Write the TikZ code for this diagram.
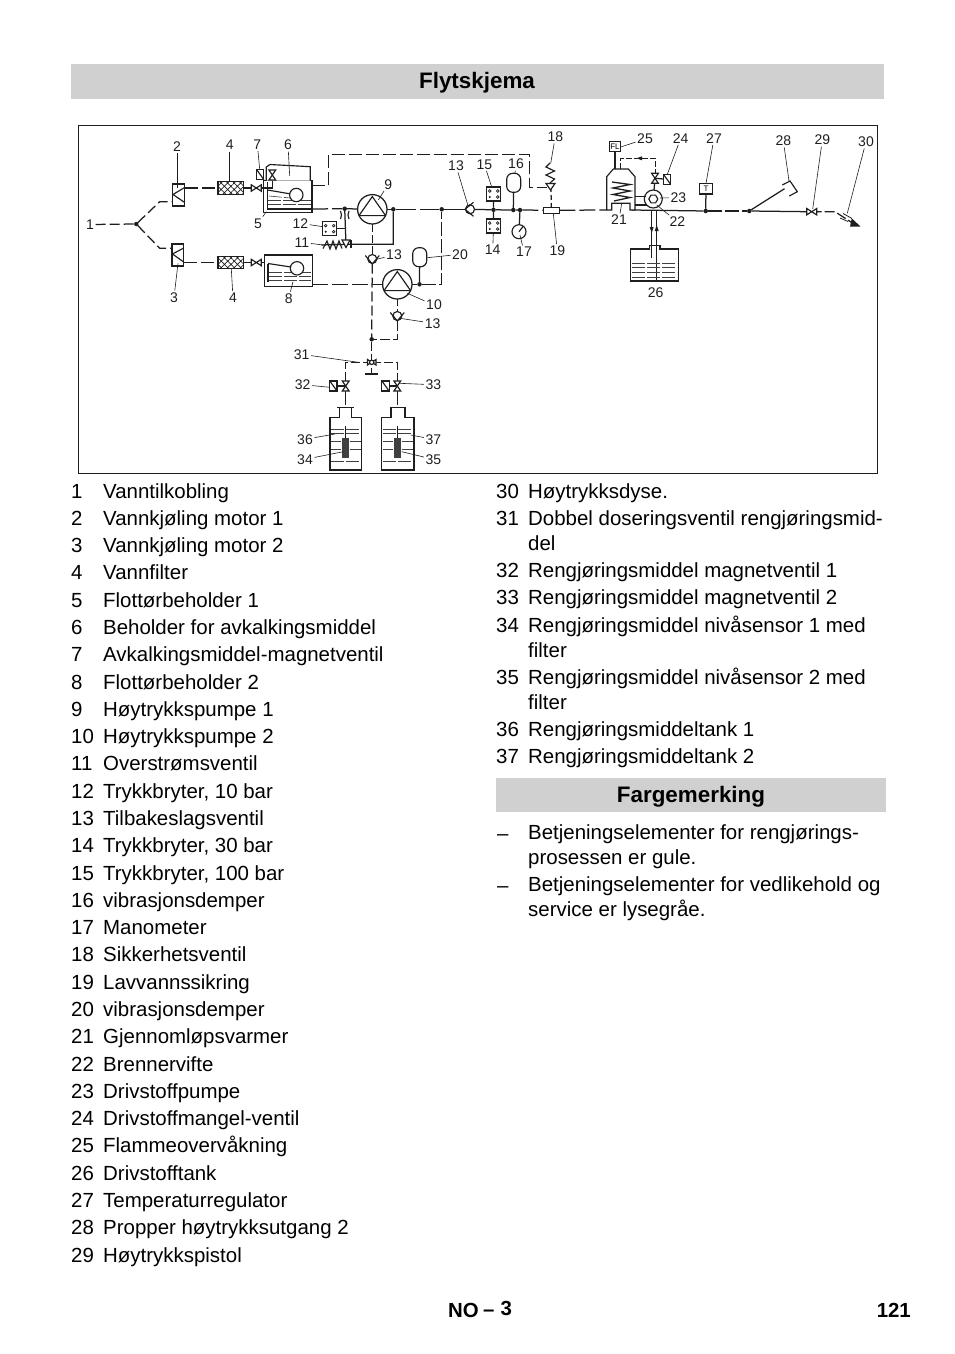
\documentclass[tikz,border=0pt]{standalone}
\usepackage{fontspec}
\setmainfont{Liberation Sans}
\usepackage{xcolor}
\definecolor{Ink}{RGB}{30,30,30}
\definecolor{Bar}{RGB}{208,208,208}
\usetikzlibrary{shapes.geometric}
\usetikzlibrary{patterns.meta}
\usetikzlibrary{arrows.meta}
\tikzstyle{Part}=[draw=Ink,line width=1.15pt]
\tikzstyle{Box}=[Part,rectangle,fill=white,inner sep=0pt,outer sep=0pt]
\tikzstyle{Pipe}=[draw=Ink,line width=1.25pt,dash pattern=on 13pt off 4pt]
\tikzstyle{Solid}=[draw=Ink,line width=1.25pt]
\tikzstyle{Leader}=[draw=Ink,line width=.6pt]
\tikzstyle{Water}=[draw=Ink!85,line width=.6pt,dash pattern=on 13pt off 2pt]
\tikzstyle{Dot}=[circle,fill=Ink,inner sep=0pt,minimum size=4.5pt,outer sep=0pt]
\tikzstyle{Num}=[font=\fontsize{14}{14}\selectfont,text=Ink,inner sep=1.5pt]
\tikzstyle{Item}=[anchor=base west,inner sep=0pt,font=\fontsize{20.45}{24}\selectfont]
\tikzstyle{Head}=[inner sep=0pt,font=\fontsize{22.4}{26}\selectfont\bfseries]
\tikzstyle{Foot}=[anchor=base west,inner sep=0pt,font=\fontsize{20.4}{24}\selectfont\bfseries]
\tikzstyle{Filter}=[Box,minimum width=25.7pt,minimum height=12.8pt,
pattern={Hatch[angle=45,distance=4.6pt,line width=.7pt]},pattern color=Ink]
\tikzstyle{Pump}=[circle,draw=Ink,line width=1.25pt,fill=white,inner sep=0pt,
minimum size=29.4pt,outer sep=0pt,path picture={
\draw[Part]([yshift=12.7pt]path picture bounding box.center)
--([shift={(-13.3pt,-6.3pt)}]path picture bounding box.center)
--([shift={(13.3pt,-6.3pt)}]path picture bounding box.center)--cycle;}]
\tikzstyle{Ball}=[circle,Part,fill=white,inner sep=0pt,minimum size=9pt,outer sep=0pt]
\tikzstyle{Accu}=[Part,rectangle,rounded corners=6pt,fill=white,inner sep=0pt,
minimum width=14pt,minimum height=19pt,outer sep=0pt]
\tikzset{
    ValveH/.pic={\draw[Part,fill=white](-5,-3.2)--(5,3.2)--(5,-3.2)--(-5,3.2)--cycle;},
    ValveV/.pic={\draw[Part,fill=white](-3.4,-5)--(3.4,5)--(-3.4,5)--(3.4,-5)--cycle;},
    Seat/.pic={\draw[Part](-7,-3.5)--(0,5)--(7,-3.5);},
    Solenoid/.pic={\draw[Part,fill=white](-3.6,-5)rectangle(3.6,5);\draw[Part](-3.6,-5)--(3.6,5);},
    Switch/.pic={\draw[Part,fill=white](-7,-7)rectangle(7,7);
        \draw[Part,line width=.7pt](-4,-3)circle(1.3)(4,-3)circle(1.3)(4,3)circle(1.3)(-4,3)circle(.6);}
}
\begin{document}
\begin{tikzpicture}[x=1pt,y=-1pt]
    \useasboundingbox(0,0)rectangle(954,1354);
    % headings and frame
    \fill[Bar](71,64)rectangle(883.5,99);
    \fill[Bar](496,778)rectangle(886,812);
    \node[Head](title)at(477,83){Flytskjema};
    \node[Head](colours)at(691,797){Fargemerking};
    \draw[draw=Ink,line width=.8pt](78,125.5)rectangle(877.5,473.5);
    % components
    \node(water)at(90,224.5)[Num]{1};
    \node[Dot](j1)at(136.3,224){};
    \node[Box,minimum width=12.4pt,minimum height=22pt](cool1)at(178.5,195){};
    \node[Box,minimum width=11.7pt,minimum height=22pt](cool2)at(177.8,255){};
    \node[Filter](filt1)at(230.8,188){};
    \node[Filter](filt2)at(230.8,262.5){};
    \node[Box,minimum width=48.7pt,minimum height=31.6pt](float1)at(287.7,196.5){};
    \node[Box,minimum width=47.6pt,minimum height=31.7pt](float2)at(288.5,270.8){};
    \node[Pump](pump1)at(372.3,209.3){};
    \node[Pump](pump2)at(397.3,284.3){};
    \node[Dot](j2)at(344.7,208.7){};
    \node[Dot](j3)at(393.3,209.3){};
    \node[Dot](j4)at(441.7,209.3){};
    \node[Ball](check1)at(470,209.3){};
    \node[Ball](check2)at(372.3,259){};
    \node[Ball](check3)at(397.3,316){};
    \node[Dot](j5)at(493.5,209.8){};
    \node[Dot](j6)at(513.3,210){};
    \node[Dot](j7)at(520,210){};
    \node[Accu](accu1)at(513.7,182.8){};
    \node[Accu](accu2)at(419.7,257.2){};
    \node[Dot](j8)at(419.5,284.3){};
    \node[circle,Part,fill=white,inner sep=0pt,minimum size=14pt,outer sep=0pt](gauge)at(519,231.7){};
    \node[Box,minimum width=16pt,minimum height=6pt](flow)at(551.3,210.3){};
    \node[Box,minimum width=12.4pt,minimum height=10.7pt,font=\fontsize{8}{8}\selectfont](temp)at(706,188.7){T};
    \node[Box,minimum width=11.4pt,minimum height=10pt,font=\fontsize{8}{8}\selectfont](flame)at(615,146.7){FL};
    \node[Dot](j9)at(705.7,211){};
    \node[Dot](j10)at(749.3,211){};
    \node[Dot](j11)at(371.7,339.3){};
    \node[circle,Part,fill=white,inner sep=0pt,minimum size=18pt,outer sep=0pt](burner)at(653.3,199){};
    \node[regular polygon,regular polygon sides=6,Part,inner sep=0pt,minimum size=9pt](fan)at(653.3,199){};
    % free ends of the pipes
    \coordinate(y1)at(159.7,201.7);
    \coordinate(y2)at(159.7,248.3);
    \coordinate(in1)at(172.3,201.7);
    \coordinate(in2)at(172,248.3);
    \coordinate(out1)at(184.7,188);
    \coordinate(out2)at(183.7,262.5);
    \coordinate(v1)at(256.3,188);
    \coordinate(v2)at(256.3,262.5);
    \coordinate(s1)at(263.3,188);
    \coordinate(s2)at(264.7,262.5);
    \coordinate(v7)at(272.3,175);
    \coordinate(v7b)at(272.3,188);
    \coordinate(a1)at(312,185.7);
    \coordinate(a2)at(328.7,185.7);
    \coordinate(a3)at(328.7,154.3);
    \coordinate(a4)at(529.3,154.3);
    \coordinate(a5)at(529.3,187.3);
    \coordinate(a6)at(546.7,187.3);
    \coordinate(b1)at(312,209);
    \coordinate(b2)at(312.3,284.3);
    \coordinate(v11)at(346,244.3);
    \coordinate(c1)at(393.3,244.3);
    \coordinate(c2)at(441.7,284.3);
    \coordinate(sw12)at(329.7,228.7);
    \coordinate(sw15)at(493.7,194);
    \coordinate(sw14)at(493.7,226);
    \coordinate(e1)at(345,228.7);
    \coordinate(sp1)at(321.3,245);
    \coordinate(v18)at(551,187);
    \coordinate(d1)at(372.3,339.3);
    \coordinate(d2)at(397.3,339.3);
    \coordinate(v31)at(371.7,362.3);
    \coordinate(d3)at(345.7,362.3);
    \coordinate(d4)at(397.3,362.3);
    \coordinate(v32)at(345.7,386);
    \coordinate(v33)at(397.3,386);
    \coordinate(sl32)at(333.4,386);
    \coordinate(sl33)at(385.5,386);
    \coordinate(f32)at(345.7,405);
    \coordinate(f33)at(397.3,405);
    \coordinate(h1)at(606.7,210);
    \coordinate(h2)at(631.7,210);
    \coordinate(m1)at(806.7,211.7);
    \coordinate(v29)at(811.7,211.7);
    \coordinate(m2)at(835,211.7);
    \coordinate(m3)at(851.7,222.5);
    \coordinate(v24)at(655,178.3);
    \coordinate(sl24)at(667,179.3);
    \coordinate(g1)at(620.7,169);
    \coordinate(g2)at(620.7,158.3);
    \coordinate(g3)at(655,158.3);
    \coordinate(top)at(615,169);
    \coordinate(lf1)at(651.7,210);
    \coordinate(lf2)at(651.7,258);
    \coordinate(rf1)at(656.7,280);
    \coordinate(rf2)at(656.7,210);
    \coordinate(p1)at(789.3,185.7);
    % pipes
    \draw[Pipe,dash pattern=on 10pt off 4pt](water)--(j1);
    \draw[Pipe,dash pattern=on 10pt off 4pt](j1)--(y1)--(in1);
    \draw[Pipe,dash pattern=on 10pt off 4pt](j1)--(y2)--(in2);
    \draw[Pipe](out1)--(filt1);
    \draw[Pipe](out2)--(filt2);
    \draw[Solid](filt1)--(s1);
    \draw[Solid](filt2)--(s2);
    \draw[Solid](v1)--(v7b)--(v7);
    \draw[Pipe](a1)--(a2)--(a3)--(a4)--(a5)--(a6);
    \draw[Pipe,dash pattern=on 16pt off 4pt](b1)--(j2);
    \draw[Solid](j2)--(pump1);
    \draw[Solid](j2)--(v11);
    \draw[Solid](sw12)--(e1);
    \draw[Solid](sp1)--(v11)--(c1)--(j3);
    \draw[Solid](pump1)--(j3);
    \draw[Pipe,dash pattern=on 20pt off 4pt](j3)--(j4);
    \draw[Solid](j4)--(check1);
    \draw[Solid](check1)--(j5);
    \draw[Solid](j5)--(j6)--(j7);
    \draw[Pipe,dash pattern=on 16pt off 4pt](j7)--(flow);
    \draw[Solid](sw15)--(j5);
    \draw[Solid](sw14)--(j5);
    \draw[Solid](accu1)--(j6);
    \draw[Solid](gauge)--(j7);
    \draw[Pipe,dash pattern=on 5pt off 3pt](v18)--(flow);
    \draw[Pipe,dash pattern=on 16pt off 4pt](b2)--(pump2);
    \draw[Pipe,dash pattern=on 8pt off 3pt](pump1)--(check2);
    \draw[Pipe,dash pattern=on 10pt off 4pt](check2)--(j11);
    \draw[Solid](pump2)--(j8);
    \draw[Pipe,dash pattern=on 14pt off 3pt](j8)--(c2)--(j4);
    \draw[Solid](accu2)--(j8);
    \draw[Pipe,dash pattern=on 7pt off 3pt](pump2)--(check3);
    \draw[Pipe,dash pattern=on 10pt off 3pt](check3)--(d2)--(j11);
    \draw[Pipe,dash pattern=on 9pt off 3pt](j11)--(v31);
    \draw[Pipe,dash pattern=on 9pt off 3pt](v31)--(d3)--(v32);
    \draw[Pipe,dash pattern=on 9pt off 3pt](v31)--(d4)--(v33);
    \draw[Solid](v32)--(f32);
    \draw[Solid](v33)--(f33);
    \draw[Solid](v32)--(sl32);
    \draw[Solid](v33)--(sl33);
    \draw[Pipe,dash pattern=on 16pt off 4pt](flow)--(h1);
    \draw[Solid](h2)--(j9);
    \draw[Solid](temp)--(j9);
    \draw[Pipe,dash pattern=on 14pt off 3pt](j9)--(j10);
    \draw[Solid](j10)--(m1);
    \draw[Solid](j10)--(p1);
    \draw[Pipe,dash pattern=on 10pt off 3pt](v29)--(m2)--(m3);
    \draw[Solid](flame)--(top);
    \draw[Pipe,dash pattern=on 6pt off 2pt,line width=.7pt](g1)--(g2)--(g3)--(v24);
    \draw[Solid](v24)--(sl24);
    \draw[Solid](v24)--(burner);
    \draw[draw=Ink,line width=.8pt](lf1)--(lf2);
    \draw[draw=Ink,line width=.8pt](rf1)--(rf2);
    % inner shapes
    \draw[Part](184.7,187.5)--(173,194.5)--(184.7,202.5);
    \draw[Part](183.7,248)--(172.5,254)--(183.7,262);
    \draw[Part,fill=white](266.3,180.7)--(266.3,167)--(270,164.5)--(310.3,166.7)--(310.3,180.7);
    \draw[Part](267.5,182)--(267.5,209)--(312,209);
    \draw[Part](267.5,190)--(291,194);
    \draw[Part](268,263.5)--(268,282);
    \draw[Part](268,263.5)--(291,267);
    \draw[Water](268,200)--(311,200);
    \draw[Water](268,204)--(311,204);
    \draw[Water](269,196)--(290,198);
    \draw[Water](269,272)--(311,272);
    \draw[Water](269,276)--(311,276);
    \draw[Water](269,280)--(311,280);
    \draw[Part,fill=white](296.3,195)circle(6.7);
    \draw[Part,fill=white](297,268.3)circle(6.7);
    % heater, fuel tank and nozzle
    \draw[Part,fill=white](606.7,210)--(606.7,176.7)--(613.3,169)--(628.3,169)--(635,176.7)--(635,210)
        --(630,210)--(630,203.3)--(611.7,203.3)--(611.7,210)--cycle;
    \draw[Part,line width=1.3pt](612,182)--(630,184.5)--(613,188)--(630,191)--(613,194.5)--(630,197.5)--(614,201);
    \draw[Part](635,196.7)--(646,196.7);
    \draw[Part](635,205)--(647,205);
    \draw[Part,fill=white](630.7,249)--(649.3,249)--(649.3,245.7)--(660,245.7)--(660,249)--(678.3,249)
        --(678.3,281)--(630.7,281)--cycle;
    \draw[draw=Ink,line width=.8pt](651.7,245.7)--(651.7,258);
    \draw[draw=Ink,line width=.8pt](656.7,245.7)--(656.7,280);
    \draw[Water](632,263.5)--(677,263.5);
    \draw[Water](632,267.5)--(677,267.5);
    \draw[Water](632,272)--(677,272);
    \draw[Water](632,277)--(677,277);
    \fill[Ink](651.7,233)--(649.7,227)--(653.7,227)--cycle;
    \fill[Ink](656.7,225)--(654.7,231)--(658.7,231)--cycle;
    \fill[Ink](636.5,158.3)--(642,156.3)--(642,160.3)--cycle;
    \fill[Ink](851.7,218.3)--(860.7,226.7)--(850,226.7)--cycle;
    \draw[Leader,line width=.8pt](840,218)--(848,221.5);
    \draw[Leader,line width=.8pt](843,213.5)--(852,218.5);
    \draw[Part,fill=white](782.3,185)--(790,181)--(797.3,191.7)--(789.3,196);
    % relief valve and spring
    \draw[Part](550,163)--(546,167)--(554.5,171)--(546,175)--(554.5,179)--(550,183);
    \draw[Part,fill=white](546,183.5)--(555,183.5)--(550.5,190)--cycle;
    \draw[Part](323,248.5)--(327,241)--(330,249)--(333,241)--(336,249)--(339,241)--(342,248.5);
    \draw[Part,fill=white](342,240)--(350,240)--(346,247.5)--cycle;
    \draw[Part](351,240)--(351,248);
    \draw[Part](340.5,211)to[bend left=25](340.5,219);
    \draw[Part](349,211)to[bend right=25](349,219);
    % cleaning agent tanks
    \draw[Part,fill=white](337.3,407.7)--(354,407.7)(339.3,407.7)--(339.3,417.3)--(330,417.3)--(330,470)
        --(361.7,470)--(361.7,417.3)--(351.7,417.3)--(351.7,407.7);
    \draw[Part,fill=white](389.7,407.7)--(406,407.7)(391,407.7)--(391,417.3)--(381.7,417.3)--(381.7,470)
        --(414,470)--(414,417.3)--(405,417.3)--(405,407.7);
    \draw[Part](345.7,426)--(345.7,438);
    \draw[Part](397.3,426)--(397.3,438);
    \draw[Water](331,429)--(361,429);
    \draw[Water](331,433)--(361,433);
    \draw[Water](331,441)--(341,441);
    \draw[Water](350,441)--(361,441);
    \draw[Water](331,449)--(341,449);
    \draw[Water](350,449)--(361,449);
    \draw[Water](331,461)--(361,461);
    \draw[Water](383,429)--(413,429);
    \draw[Water](383,433)--(413,433);
    \draw[Water](383,441)--(393,441);
    \draw[Water](402,441)--(413,441);
    \draw[Water](383,449)--(393,449);
    \draw[Water](402,449)--(413,449);
    \draw[Water](383,461)--(413,461);
    \fill[Ink!85](342.3,438)rectangle(349,457.7);
    \fill[Ink!85](394,438)rectangle(400.7,457.7);
    \draw[Part](365,374)--(378,374);
    \draw[Part](371.7,368)--(371.7,374);
    \pic at(v1){ValveH};
    \pic at(v2){ValveH};
    \pic at(v7){ValveV};
    \pic at(260.3,174.7){Solenoid};
    \pic at(v29){ValveH};
    \pic at(v24){ValveV};
    \pic at(sl24){Solenoid};
    \pic at(v32){ValveV};
    \pic at(v33){ValveV};
    \pic at(sl32){Solenoid};
    \pic at(sl33){Solenoid};
    \pic at(sw12){Switch};
    \pic at(sw15){Switch};
    \pic at(sw14){Switch};
    \pic[rotate=-90]at(check1){Seat};
    \pic at(check2){Seat};
    \pic at(check3){Seat};
    \draw[Part,fill=white](367.5,359.5)--(376,365)--(376,359.5)--(367.5,365)--cycle;
    \draw[Part,fill=white](371.7,362.3)circle(2.2);
    \draw[Part](519,231.7)--(523,226.5);
    % reference numbers
    \node[Num](n2)at(177,146.7){2};
    \coordinate(t2)at(177,188);
    \draw[Leader](n2)--(t2);
    \node[Num](n4a)at(229.7,145){4};
    \coordinate(t4a)at(229.7,181.7);
    \draw[Leader](n4a)--(t4a);
    \node[Num](n7)at(257.3,144.3){7};
    \coordinate(t7)at(259.7,169.3);
    \draw[Leader](n7)--(t7);
    \node[Num](n6)at(288,145){6};
    \coordinate(t6)at(289.7,176);
    \draw[Leader](n6)--(t6);
    \node[Num](n5)at(258,223.3){5};
    \coordinate(t5)at(266.3,211.7);
    \draw[Leader](n5)--(t5);
    \node[Num](n12)at(300.3,223.3){12};
    \coordinate(t12)at(323,226.7);
    \draw[Leader](n12)--(t12);
    \node[Num](n11)at(302,242.3){11};
    \coordinate(t11)at(323,245);
    \draw[Leader](n11)--(t11);
    \node[Num](n3)at(174,297.3){3};
    \coordinate(t3)at(178,263.3);
    \draw[Leader](n3)--(t3);
    \node[Num](n4b)at(233,297.7){4};
    \coordinate(t4b)at(231.3,269);
    \draw[Leader](n4b)--(t4b);
    \node[Num](n8)at(288.7,298.3){8};
    \coordinate(t8)at(293,281.7);
    \draw[Leader](n8)--(t8);
    \node[Num](n9)at(388.3,184.3){9};
    \coordinate(t9)at(378.3,200);
    \draw[Leader](n9)--(t9);
    \node[Num](n13a)at(456,165.7){13};
    \coordinate(t13a)at(468.3,206.7);
    \draw[Leader](n13a)--(t13a);
    \node[Num](n15)at(484.3,164.3){15};
    \coordinate(t15)at(491.7,187);
    \draw[Leader](n15)--(t15);
    \node[Num](n16)at(516,164){16};
    \coordinate(t16)at(515,173.3);
    \draw[Leader](n16)--(t16);
    \node[Num](n18)at(555.3,136.7){18};
    \coordinate(t18)at(550.7,163.3);
    \draw[Leader](n18)--(t18);
    \node[Num](n14)at(492.7,250){14};
    \coordinate(t14)at(493.3,233);
    \draw[Leader](n14)--(t14);
    \node[Num](n17)at(524,252){17};
    \coordinate(t17)at(520,235);
    \draw[Leader](n17)--(t17);
    \node[Num](n19)at(557.3,250.7){19};
    \coordinate(t19)at(553.3,213.3);
    \draw[Leader](n19)--(t19);
    \node[Num](n13b)at(394,255){13};
    \coordinate(t13b)at(376.7,259.3);
    \draw[Leader](n13b)--(t13b);
    \node[Num](n20)at(460,254.3){20};
    \coordinate(t20)at(427.3,257.7);
    \draw[Leader](n20)--(t20);
    \node[Num](n10)at(434,305){10};
    \coordinate(t10)at(407.3,293.3);
    \draw[Leader](n10)--(t10);
    \node[Num](n13c)at(432.7,323.3){13};
    \coordinate(t13c)at(400,318.3);
    \draw[Leader](n13c)--(t13c);
    \node[Num](n31)at(301.7,354.3){31};
    \coordinate(t31)at(358.3,362.3);
    \draw[Leader](n31)--(t31);
    \node[Num](n32)at(302.7,384.7){32};
    \coordinate(t32)at(330,387.3);
    \draw[Leader](n32)--(t32);
    \node[Num](n33)at(433.3,384.7){33};
    \coordinate(t33)at(399.3,383.3);
    \draw[Leader](n33)--(t33);
    \node[Num](n36)at(305,439.3){36};
    \coordinate(t36)at(335,434);
    \draw[Leader](n36)--(t36);
    \node[Num](n34)at(305,459.3){34};
    \coordinate(t34)at(343.3,451.7);
    \draw[Leader](n34)--(t34);
    \node[Num](n37)at(433.3,439.3){37};
    \coordinate(t37)at(410.7,435);
    \draw[Leader](n37)--(t37);
    \node[Num](n35)at(433.3,459.3){35};
    \coordinate(t35)at(401.7,451.7);
    \draw[Leader](n35)--(t35);
    \node[Num](n25)at(645,139){25};
    \coordinate(t25)at(620.7,147);
    \draw[Leader](n25)--(t25);
    \node[Num](n24)at(680.7,138.3){24};
    \coordinate(t24)at(667.3,174.3);
    \draw[Leader](n24)--(t24);
    \node[Num](n27)at(714,138.3){27};
    \coordinate(t27)at(706,183.3);
    \draw[Leader](n27)--(t27);
    \node[Num](n28)at(783.3,140.7){28};
    \coordinate(t28)at(789,181);
    \draw[Leader](n28)--(t28);
    \node[Num](n29)at(822.3,140){29};
    \coordinate(t29)at(812.7,209);
    \draw[Leader](n29)--(t29);
    \node[Num](n30)at(866,141.7){30};
    \coordinate(t30)at(847.3,213.3);
    \draw[Leader](n30)--(t30);
    \node[Num](n21)at(619,220){21};
    \coordinate(t21)at(621.7,203.3);
    \draw[Leader](n21)--(t21);
    \node[Num](n22)at(677.3,221.7){22};
    \coordinate(t22)at(656.7,205);
    \draw[Leader](n22)--(t22);
    \node[Num](n23)at(678.3,197.7){23};
    \coordinate(t23)at(660,198);
    \draw[Leader](n23)--(t23);
    \node[Num](n26)at(655.7,292.3){26};
    % left column
    \node[Item](i1)at(71,498){1};
    \node[Item](l1)at(103,498){Vanntilkobling};
    \node[Item](i2)at(71,525.3){2};
    \node[Item](l2)at(103,525.3){Vannkjøling motor 1};
    \node[Item](i3)at(71,552.6){3};
    \node[Item](l3)at(103,552.6){Vannkjøling motor 2};
    \node[Item](i4)at(71,579.9){4};
    \node[Item](l4)at(103,579.9){Vannfilter};
    \node[Item](i5)at(71,607.2){5};
    \node[Item](l5)at(103,607.2){Flottørbeholder 1};
    \node[Item](i6)at(71,634.4){6};
    \node[Item](l6)at(103,634.4){Beholder for avkalkingsmiddel};
    \node[Item](i7)at(71,661.7){7};
    \node[Item](l7)at(103,661.7){Avkalkingsmiddel-magnetventil};
    \node[Item](i8)at(71,689){8};
    \node[Item](l8)at(103,689){Flottørbeholder 2};
    \node[Item](i9)at(71,716.3){9};
    \node[Item](l9)at(103,716.3){Høytrykkspumpe 1};
    \node[Item](i10)at(71,743.6){10};
    \node[Item](l10)at(103,743.6){Høytrykkspumpe 2};
    \node[Item](i11)at(71,770.9){11};
    \node[Item](l11)at(103,770.9){Overstrømsventil};
    \node[Item](i12)at(71,798.2){12};
    \node[Item](l12)at(103,798.2){Trykkbryter, 10 bar};
    \node[Item](i13)at(71,825.5){13};
    \node[Item](l13)at(103,825.5){Tilbakeslagsventil};
    \node[Item](i14)at(71,852.8){14};
    \node[Item](l14)at(103,852.8){Trykkbryter, 30 bar};
    \node[Item](i15)at(71,880.1){15};
    \node[Item](l15)at(103,880.1){Trykkbryter, 100 bar};
    \node[Item](i16)at(71,907.3){16};
    \node[Item](l16)at(103,907.3){vibrasjonsdemper};
    \node[Item](i17)at(71,934.6){17};
    \node[Item](l17)at(103,934.6){Manometer};
    \node[Item](i18)at(71,961.9){18};
    \node[Item](l18)at(103,961.9){Sikkerhetsventil};
    \node[Item](i19)at(71,989.2){19};
    \node[Item](l19)at(103,989.2){Lavvannssikring};
    \node[Item](i20)at(71,1016.5){20};
    \node[Item](l20)at(103,1016.5){vibrasjonsdemper};
    \node[Item](i21)at(71,1043.8){21};
    \node[Item](l21)at(103,1043.8){Gjennomløpsvarmer};
    \node[Item](i22)at(71,1071.1){22};
    \node[Item](l22)at(103,1071.1){Brennervifte};
    \node[Item](i23)at(71,1098.4){23};
    \node[Item](l23)at(103,1098.4){Drivstoffpumpe};
    \node[Item](i24)at(71,1125.7){24};
    \node[Item](l24)at(103,1125.7){Drivstoffmangel-ventil};
    \node[Item](i25)at(71,1152.9){25};
    \node[Item](l25)at(103,1152.9){Flammeovervåkning};
    \node[Item](i26)at(71,1180.2){26};
    \node[Item](l26)at(103,1180.2){Drivstofftank};
    \node[Item](i27)at(71,1207.5){27};
    \node[Item](l27)at(103,1207.5){Temperaturregulator};
    \node[Item](i28)at(71,1234.8){28};
    \node[Item](l28)at(103,1234.8){Propper høytrykksutgang 2};
    \node[Item](i29)at(71,1262.1){29};
    \node[Item](l29)at(103,1262.1){Høytrykkspistol};
    % right column
    \node[Item](i30)at(496,498){30};
    \node[Item](l30)at(528,498){Høytrykksdyse.};
    \node[Item](i31)at(496,525.3){31};
    \node[Item](l31)at(528,525.3){Dobbel doseringsventil rengjøringsmid-};
    \node[Item](l31b)at(528,550.2){del};
    \node[Item](i32)at(496,577.5){32};
    \node[Item](l32)at(528,577.5){Rengjøringsmiddel magnetventil 1};
    \node[Item](i33)at(496,604.8){33};
    \node[Item](l33)at(528,604.8){Rengjøringsmiddel magnetventil 2};
    \node[Item](i34)at(496,632.1){34};
    \node[Item](l34)at(528,632.1){Rengjøringsmiddel nivåsensor 1 med};
    \node[Item](l34b)at(528,657){filter};
    \node[Item](i35)at(496,684.3){35};
    \node[Item](l35)at(528,684.3){Rengjøringsmiddel nivåsensor 2 med};
    \node[Item](l35b)at(528,709.2){filter};
    \node[Item](i36)at(496,736.5){36};
    \node[Item](l36)at(528,736.5){Rengjøringsmiddeltank 1};
    \node[Item](i37)at(496,763.8){37};
    \node[Item](l37)at(528,763.8){Rengjøringsmiddeltank 2};
    \node[Item](d1a)at(497,840.5){–};
    \node[Item](t1a)at(528,839.5){Betjeningselementer for rengjørings-};
    \node[Item](t1b)at(528,864.4){prosessen er gule.};
    \node[Item](d2a)at(497,892.2){–};
    \node[Item](t2a)at(528,891.2){Betjeningselementer for vedlikehold og};
    \node[Item](t2b)at(528,916.1){service er lysegråe.};
    % footer
    \node[Foot](no)at(448,1317){NO};
    \node[Foot](dash)at(483,1316){–};
    \node[Foot](sheet)at(500.5,1315){3};
    \node[Foot,anchor=base east](page)at(911,1317){121};
\end{tikzpicture}
\end{document}
